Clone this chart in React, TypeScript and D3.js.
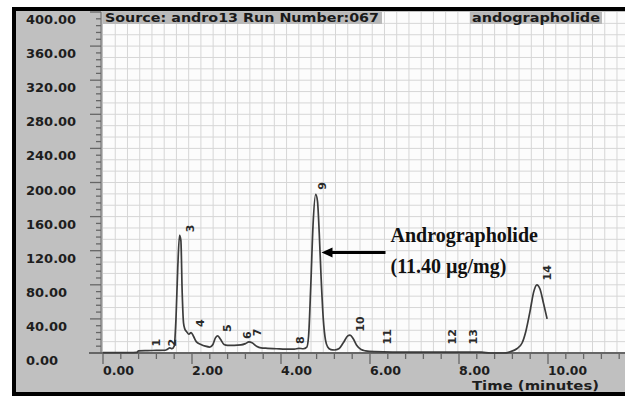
import { useEffect, useRef } from 'react'
import * as d3 from 'd3'

// chromatogram trace: [time (min), response]
const traceTime = [
  0, 0.3, 0.6, 0.76, 0.8, 1.0, 1.2, 1.4, 1.45, 1.5, 1.55, 1.6, 1.64, 1.68, 1.72, 1.75, 1.78, 1.81, 1.84,
  1.88, 1.93, 1.98, 2.03, 2.1, 2.2, 2.3, 2.4, 2.47, 2.53, 2.58, 2.64, 2.72, 2.8, 2.95, 3.1, 3.2, 3.28,
  3.35, 3.45, 3.55, 3.7, 3.9, 4.1, 4.3, 4.4, 4.5, 4.58, 4.62, 4.67, 4.72, 4.78, 4.82, 4.86, 4.9, 4.95,
  5.0, 5.05, 5.12, 5.2, 5.3, 5.4, 5.5, 5.55, 5.62, 5.7, 5.8, 5.9, 6.1, 6.5, 7.0, 8.0, 8.5, 8.7, 9.0,
  9.15, 9.3, 9.42, 9.5, 9.6, 9.68, 9.75, 9.82, 9.9, 9.98,
]
const traceValue = [
  0.5, 0.5, 0.5, 0.8, 2.5, 2.8, 3, 3.2, 4.5, 6, 5, 8, 40, 100, 138, 132, 70, 35, 28,
  25, 22, 24, 20, 13, 10, 8, 7, 10, 18, 20, 16, 10, 9, 9, 9.5, 11, 13,
  12, 8, 6, 5.5, 5, 4.5, 4.5, 5.5, 5, 7, 20, 80, 150, 186, 178, 140, 90, 40,
  15, 7, 4, 3.5, 5, 12, 20, 21, 17, 9, 4, 2.5, 1.5, 1, 1, 1, 1, 0, 0,
  1.5, 5, 12, 25, 50, 72, 80, 75, 58, 40,
]

// peak numbers with label position [time, response]
const peakIds = ['1', '2', '3', '4', '5', '6', '7', '8', '9', '10', '11', '12', '13', '14']
const peakLabelTime = [1.2, 1.55, 1.96, 2.18, 2.79, 3.24, 3.46, 4.43, 4.92, 5.78, 6.38, 7.84, 8.31, 9.98]
const peakLabelValue = [12, 12, 146, 35, 29, 21, 24, 15, 196, 34, 19, 19, 19, 94]

const yTicks = [0, 40, 80, 120, 160, 200, 240, 280, 320, 360, 400]
const xTicks = [0, 2, 4, 6, 8, 10]

const headerLeft = 'Source: andro13 Run Number:067'
const headerRight = 'andographolide'
const annotation = ['Andrographolide', '(11.40 µg/mg)']
const annotationTime = 4.82
const annotationValue = 118

export default function App() {
  const svgRef = useRef<SVGSVGElement>(null)

  useEffect(() => {
    if (!svgRef.current) return
    const svg = d3.select(svgRef.current)
    svg.selectAll('*').remove()

    const width = 625
    const height = 399
    const plot = { left: 103, top: 12, right: 625, bottom: 353 }

    const x = d3.scaleLinear().domain([0, 10]).range([plot.left, 548])
    const y = d3.scaleLinear().domain([0, 400]).range([plot.bottom, plot.top])

    const font = 'DejaVu Sans, Verdana, sans-serif'

    // outer panel
    svg.append('rect').attr('width', width).attr('height', height).attr('fill', '#ffffff')
    svg.append('rect')
      .attr('x', 14).attr('y', 9)
      .attr('width', width).attr('height', 385)
      .attr('fill', '#c0c0c0')
      .attr('stroke', '#000').attr('stroke-width', 4)

    // plot area
    svg.append('rect')
      .attr('x', plot.left).attr('y', plot.top)
      .attr('width', plot.right - plot.left).attr('height', plot.bottom - plot.top)
      .attr('fill', '#fcfcfc')

    const grid = svg.append('g').attr('stroke', '#d6d6d6').attr('stroke-width', 1)
    d3.range(0.275, 11.8, 0.275).forEach(t => {
      grid.append('line')
        .attr('x1', x(t)).attr('x2', x(t))
        .attr('y1', plot.top).attr('y2', plot.bottom)
    })
    d3.range(40 / 3, 400, 40 / 3).forEach(v => {
      grid.append('line')
        .attr('x1', plot.left).attr('x2', plot.right)
        .attr('y1', y(v)).attr('y2', y(v))
    })

    // header labels
    svg.append('rect')
      .attr('x', plot.left).attr('y', plot.top)
      .attr('width', 279).attr('height', 12)
      .attr('fill', '#b9b9b9')
    svg.append('text')
      .attr('x', plot.left + 2).attr('y', plot.top + 10)
      .attr('font-family', font).attr('font-weight', 'bold').attr('font-size', 12.5)
      .attr('fill', '#1a1a1a')
      .attr('textLength', 274).attr('lengthAdjust', 'spacingAndGlyphs')
      .text(headerLeft)
    svg.append('rect')
      .attr('x', 470).attr('y', plot.top)
      .attr('width', 132).attr('height', 12)
      .attr('fill', '#b9b9b9')
    svg.append('text')
      .attr('x', 472).attr('y', plot.top + 10)
      .attr('font-family', font).attr('font-weight', 'bold').attr('font-size', 12.5)
      .attr('fill', '#1a1a1a')
      .attr('textLength', 128).attr('lengthAdjust', 'spacingAndGlyphs')
      .text(headerRight)

    // axes
    const axisG = svg.append('g').attr('stroke', '#666')
    axisG.append('line')
      .attr('x1', plot.left - 2).attr('x2', plot.left - 2)
      .attr('y1', plot.top).attr('y2', plot.bottom)
      .attr('stroke-width', 1)
    axisG.append('line')
      .attr('x1', plot.left - 14).attr('x2', plot.right)
      .attr('y1', plot.bottom).attr('y2', plot.bottom)
      .attr('stroke-width', 2)

    d3.range(0, 401, 8).forEach(v => {
      const major = v % 40 === 0
      axisG.append('line')
        .attr('x1', plot.left - (major ? 13 : 7)).attr('x2', plot.left - 2)
        .attr('y1', y(v)).attr('y2', y(v))
        .attr('stroke-width', 1.3)
    })
    d3.range(0, 11.7, 0.4).forEach(t => {
      const major = Math.abs(t / 2 - Math.round(t / 2)) < 1e-6
      axisG.append('line')
        .attr('x1', x(t)).attr('x2', x(t))
        .attr('y1', plot.bottom).attr('y2', plot.bottom + (major ? 11 : 6))
        .attr('stroke-width', 1.3)
    })

    svg.append('g')
      .selectAll('text')
      .data(yTicks)
      .join('text')
      .attr('x', 26)
      .attr('y', d => y(d) + 12)
      .attr('font-family', font).attr('font-weight', 'bold').attr('font-size', 13)
      .attr('fill', '#1e1e1e')
      .text(d => d.toFixed(2))

    svg.append('g')
      .selectAll('text')
      .data(xTicks)
      .join('text')
      .attr('x', d => x(d))
      .attr('y', plot.bottom + 22)
      .attr('font-family', font).attr('font-weight', 'bold').attr('font-size', 12)
      .attr('fill', '#1e1e1e')
      .attr('textLength', d => (d >= 10 ? 39 : 31)).attr('lengthAdjust', 'spacingAndGlyphs')
      .text(d => d.toFixed(2))

    svg.append('text')
      .attr('x', 472).attr('y', 390)
      .attr('font-family', font).attr('font-weight', 'bold').attr('font-size', 12.5)
      .attr('fill', '#1e1e1e')
      .attr('textLength', 127).attr('lengthAdjust', 'spacingAndGlyphs')
      .text('Time (minutes)')

    // trace
    const points = traceTime.map((t, i) => [t, traceValue[i]] as [number, number])
    const line = d3.line<[number, number]>()
      .x(d => x(d[0]))
      .y(d => y(d[1]))
      .curve(d3.curveMonotoneX)
    svg.append('path')
      .datum(points)
      .attr('fill', 'none')
      .attr('stroke', '#3c3c3c')
      .attr('stroke-width', 1.7)
      .attr('d', line)

    // peak labels
    svg.append('g')
      .selectAll('text')
      .data(peakIds)
      .join('text')
      .attr('transform', (_d, i) => `translate(${x(peakLabelTime[i]) + 4},${y(peakLabelValue[i])}) rotate(-90)`)
      .attr('text-anchor', 'middle')
      .attr('font-family', font).attr('font-weight', 'bold').attr('font-size', 11)
      .attr('fill', '#2a2a2a')
      .text(d => d)

    // annotation arrow
    const ax = x(annotationTime) + 4
    const ay = y(annotationValue)
    svg.append('line')
      .attr('x1', ax + 8).attr('x2', ax + 64)
      .attr('y1', ay).attr('y2', ay)
      .attr('stroke', '#000').attr('stroke-width', 3)
    svg.append('path')
      .attr('d', `M${ax},${ay} L${ax + 11},${ay - 5} L${ax + 11},${ay + 5} Z`)
      .attr('fill', '#000')

    svg.append('g')
      .selectAll('text')
      .data(annotation)
      .join('text')
      .attr('x', ax + 69)
      .attr('y', (_d, i) => ay - 10 + i * 31)
      .attr('font-family', 'Liberation Serif, Times New Roman, serif')
      .attr('font-weight', 'bold').attr('font-size', 20)
      .attr('fill', '#111')
      .text(d => d)
  }, [])

  return (
    <svg
      ref={svgRef}
      width={625}
      height={399}
      style={{ position: 'absolute', left: 0, top: 0 }}
    />
  )
}
